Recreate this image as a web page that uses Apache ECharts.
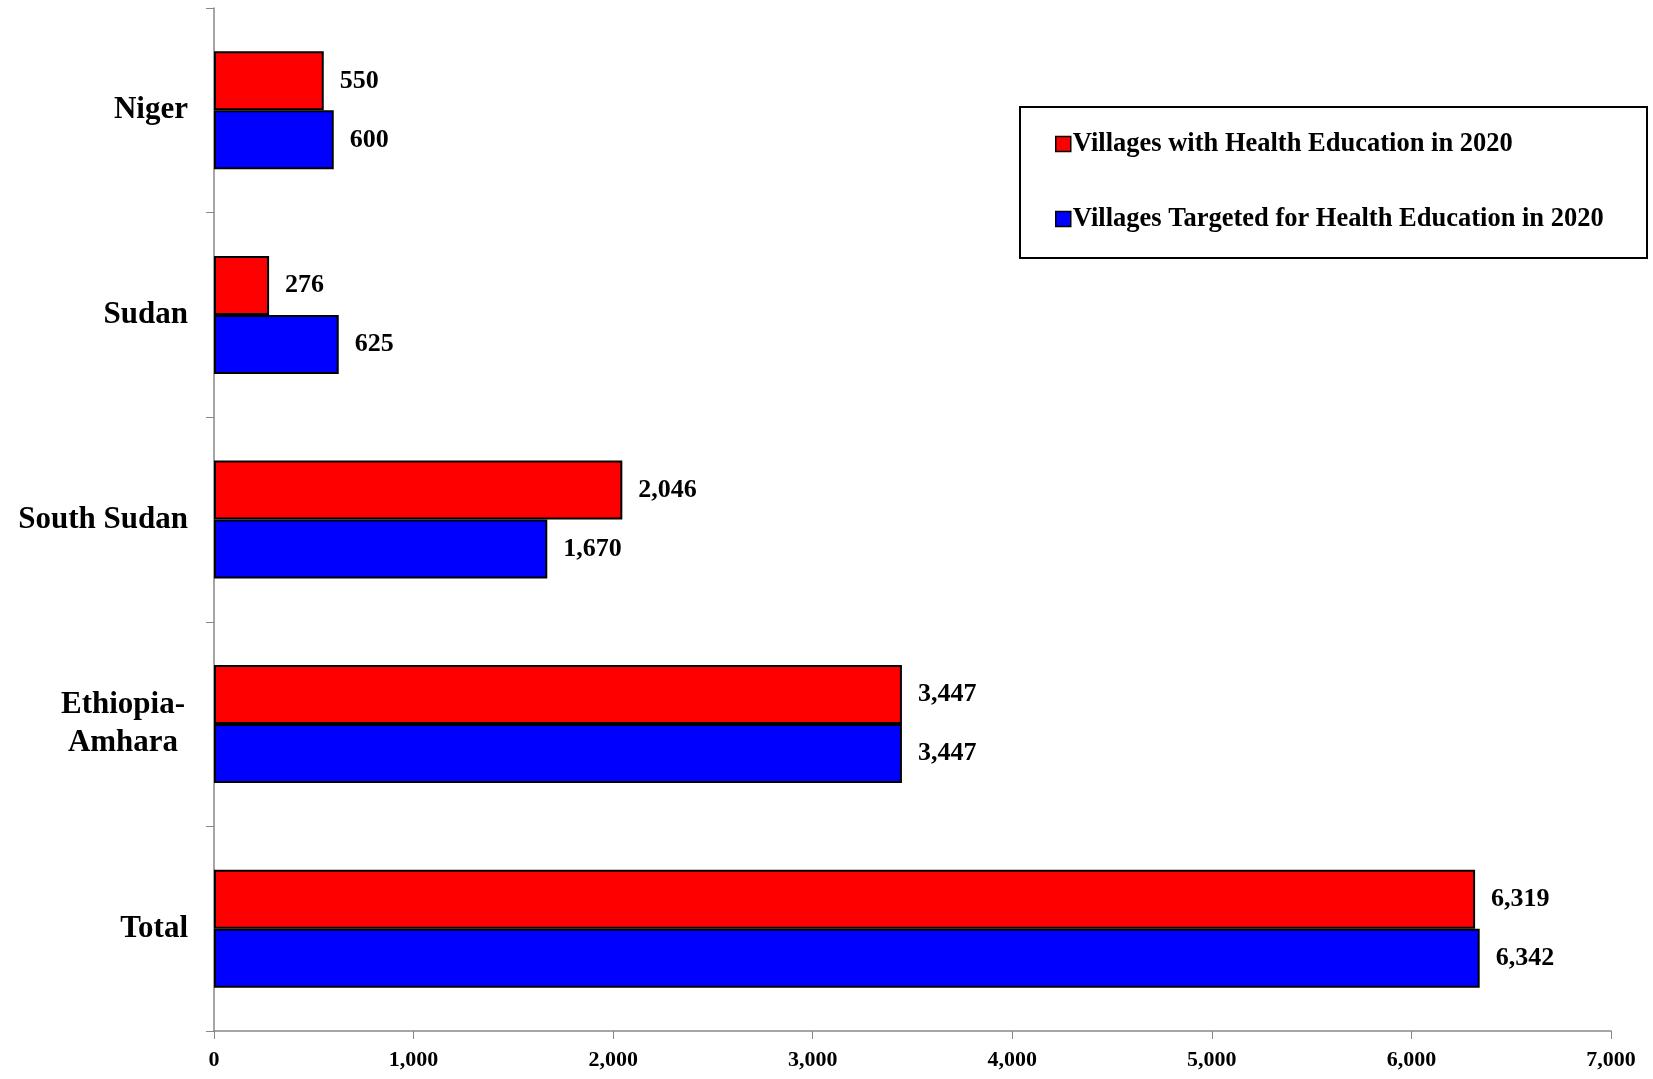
<!DOCTYPE html>
<html><head><meta charset="utf-8">
<script src="https://cdn.jsdelivr.net/npm/echarts@6/dist/echarts.min.js"></script>
<style>html,body{margin:0;padding:0;background:#fff}#c{width:1653px;height:1079px}</style>
</head><body><div id="c"></div>
<script>
const categories = ["Niger", "Sudan", "South Sudan", "Ethiopia-\nAmhara", "Total"];
const seriesNames = ["Villages with Health Education in 2020", "Villages Targeted for Health Education in 2020"];
const withEducation = [550, 276, 2046, 3447, 6319];
const targeted = [600, 625, 1670, 3447, 6342];
const xTicks = [0, 1000, 2000, 3000, 4000, 5000, 6000, 7000];

const FONT = '"Liberation Serif", serif';
const fmt = v => v.toLocaleString('en-US');
const chart = echarts.init(document.getElementById('c'));
const labelStyle = { show: true, position: 'right', distance: 16, formatter: p => fmt(p.value), fontFamily: FONT, fontSize: 26, fontWeight: 'bold', color: '#000' };
chart.setOption({
  animation: false,
  textStyle: { fontFamily: FONT },
  grid: { left: 214, right: 42, top: 8, bottom: 48 },
  graphic: [{
    type: 'rect', left: 1019, top: 106, z: 0,
    shape: { width: 627, height: 151 },
    style: { fill: '#fff', stroke: '#000', lineWidth: 2 }
  }],
  legend: {
    orient: 'vertical',
    left: 1055, top: 130,
    padding: 0,
    itemGap: 47,
    itemWidth: 15, itemHeight: 15,
    icon: 'rect',
    itemStyle: { borderColor: '#000', borderWidth: 1.5 },
    textStyle: { fontFamily: FONT, fontSize: 26.5, lineHeight: 28, fontWeight: 'bold', color: '#000', padding: [0, 0, 0, -3] },
    data: seriesNames,
    z: 5
  },
  xAxis: {
    type: 'value', min: xTicks[0], max: xTicks[xTicks.length - 1], interval: 1000,
    axisLine: { show: true, lineStyle: { color: '#888', width: 1.5 } },
    axisTick: { show: true, length: 8, lineStyle: { color: '#888' } },
    splitLine: { show: false },
    axisLabel: { formatter: v => fmt(v), fontFamily: FONT, fontSize: 22, fontWeight: 'bold', color: '#000', margin: 18 }
  },
  yAxis: {
    type: 'category', data: categories, inverse: true,
    axisLine: { show: true, lineStyle: { color: '#888', width: 1.5 } },
    axisTick: { show: true, length: 8, lineStyle: { color: '#888' } },
    axisLabel: {
      fontFamily: FONT, fontSize: 31, fontWeight: 'bold', color: '#000', margin: 26, lineHeight: 38,
      formatter: v => v.indexOf('\n') >= 0 ? '{c|' + v + '}' : v,
      rich: { c: { width: 130, align: 'center', fontFamily: FONT, fontSize: 31, fontWeight: 'bold', color: '#000', lineHeight: 38 } }
    }
  },
  series: [
    {
      name: seriesNames[0], type: 'bar', data: withEducation,
      barWidth: 59, barGap: '0%',
      itemStyle: { color: '#ff0000', borderColor: '#000', borderWidth: 2 },
      label: labelStyle
    },
    {
      name: seriesNames[1], type: 'bar', data: targeted,
      barWidth: 59, barGap: '0%',
      itemStyle: { color: '#0000ff', borderColor: '#000', borderWidth: 2 },
      label: labelStyle
    }
  ]
});
</script></body></html>
